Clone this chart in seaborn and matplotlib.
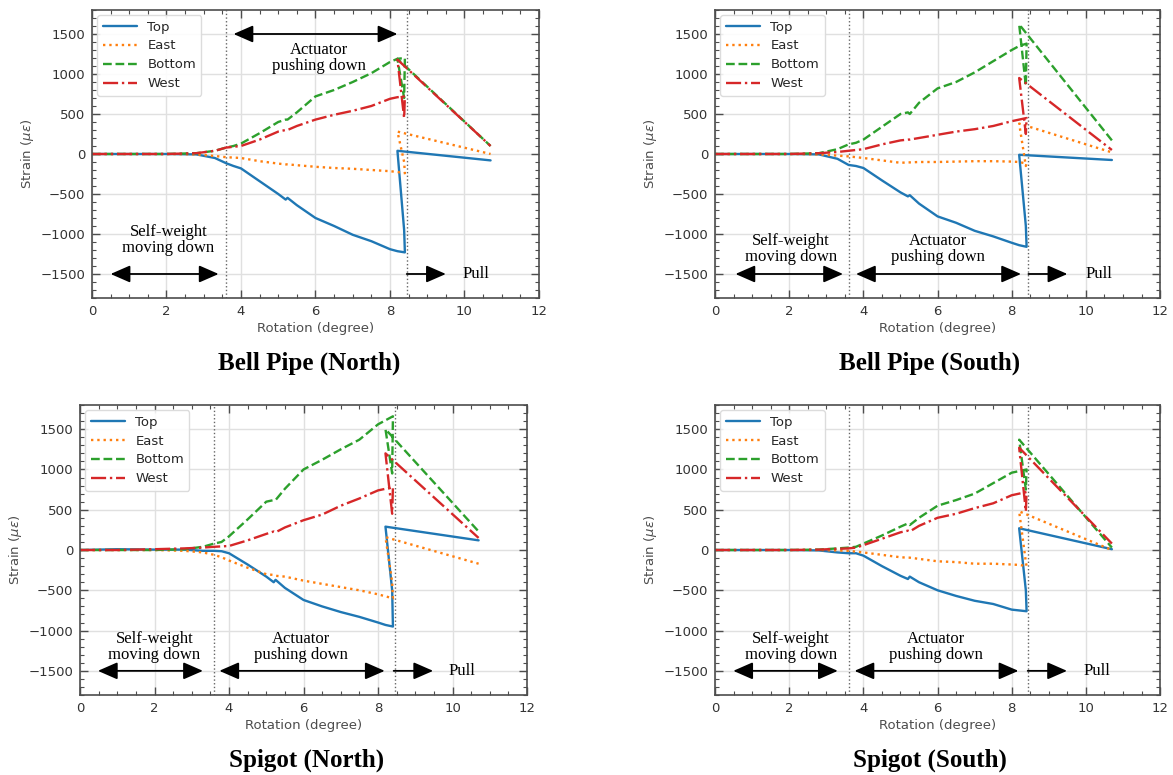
import numpy as np
import pandas as pd
import matplotlib
matplotlib.use("Agg")
import matplotlib.pyplot as plt
import seaborn as sns
from matplotlib.ticker import AutoMinorLocator, MultipleLocator

# ---------------- data ----------------
SENSORS = ["Top", "East", "Bottom", "West"]
COLORS = {"Top": "#1f77b4", "East": "#ff7f0e", "Bottom": "#2ca02c", "West": "#d62728"}

# rotation (degree) during loading, then the unload/jump/pull tail
LOAD_X = [0.0, 1.0, 2.0, 2.8, 3.3, 3.6, 3.8, 4.0, 4.5, 5.0, 5.2, 5.25, 5.5,
          6.0, 6.5, 7.0, 7.5, 8.0, 8.2, 8.4]
TAIL_X = [8.38, 8.2, 10.7]

# Bell Pipe (North)
bell_north_top = [0, 0, 0, -5, -50, -115, -150, -180, -340, -500, -570, -548, -640,
                  -800, -900, -1010, -1090, -1190, -1215, -1230, -950, 40, -80]
bell_north_east = [0, 0, 0, -5, -25, -40, -45, -50, -90, -120, -130, -130, -140,
                   -160, -175, -185, -200, -215, -225, -240, -100, 280, 0]
bell_north_bottom = [0, 0, 0, 10, 40, 80, 100, 130, 260, 400, 430, 430, 520,
                     720, 800, 900, 1010, 1150, 1190, 1200, 700, 1190, 100]
bell_north_west = [0, 0, 0, 10, 40, 80, 90, 100, 180, 280, 300, 300, 350,
                   430, 490, 540, 600, 690, 710, 720, 450, 1180, 100]

# Bell Pipe (South)
bell_south_top = [0, 0, 0, -5, -60, -137, -150, -175, -330, -480, -530, -515, -620,
                  -780, -860, -960, -1030, -1110, -1140, -1160, -900, -10, -75]
bell_south_east = [0, 0, 0, -5, -20, -30, -40, -50, -80, -110, -105, -105, -100,
                   -100, -95, -90, -90, -95, -100, -120, -150, 380, 20]
bell_south_bottom = [0, 0, 0, 10, 60, 120, 140, 180, 340, 500, 520, 500, 640,
                     820, 900, 1020, 1160, 1300, 1350, 1380, 850, 1620, 170]
bell_south_west = [0, 0, 0, 10, 25, 40, 50, 60, 120, 170, 180, 180, 200,
                   240, 280, 310, 350, 410, 430, 450, 250, 950, 50]

# Spigot (North)
spigot_north_top = [0, 10, 5, 5, -10, -10, -15, -40, -180, -330, -400, -370, -470,
                    -620, -700, -770, -830, -900, -930, -950, -500, 290, 120]
spigot_north_east = [0, 0, 0, -10, -30, -60, -90, -130, -220, -300, -310, -320, -330,
                     -380, -420, -460, -500, -550, -575, -600, -400, 160, -170]
spigot_north_bottom = [0, 0, 0, 10, 40, 80, 100, 170, 380, 600, 620, 620, 760,
                       1000, 1120, 1250, 1370, 1560, 1610, 1660, 950, 1500, 230]
spigot_north_west = [0, 0, 10, 20, 30, 40, 45, 50, 120, 200, 230, 220, 280,
                     370, 440, 550, 640, 740, 760, 780, 450, 1200, 150]

# Spigot (South)
spigot_south_top = [0, 0, 0, -5, -30, -40, -40, -70, -200, -320, -360, -330, -400,
                    -500, -570, -630, -670, -740, -750, -760, -500, 270, 10]
spigot_south_east = [0, 0, 0, 0, -5, -10, -20, -30, -60, -90, -95, -95, -110,
                     -140, -150, -170, -170, -180, -185, -200, -150, 480, 0]
spigot_south_bottom = [0, 0, 0, 5, 20, 30, 40, 80, 180, 290, 330, 310, 400,
                       550, 620, 700, 830, 960, 980, 1000, 750, 1370, 30]
spigot_south_west = [0, 0, 0, 5, 15, 20, 30, 60, 140, 220, 240, 230, 300,
                     400, 450, 520, 580, 680, 700, 720, 480, 1270, 80]

PANEL_TITLES = ["Bell Pipe (North)", "Bell Pipe (South)", "Spigot (North)", "Spigot (South)"]
PANEL_SERIES = [
    [bell_north_top, bell_north_east, bell_north_bottom, bell_north_west],
    [bell_south_top, bell_south_east, bell_south_bottom, bell_south_west],
    [spigot_north_top, spigot_north_east, spigot_north_bottom, spigot_north_west],
    [spigot_south_top, spigot_south_east, spigot_south_bottom, spigot_south_west],
]
PHASE_LINES = [3.6, 8.45]
PHASE_LABELS = ["Self-weight\nmoving down", "Actuator\npushing down", "Pull"]

# ---------------- layout / style ----------------
sns.set_theme(style="whitegrid")
plt.rcParams["font.family"] = ["DejaVu Sans"]

fig = plt.figure(figsize=(11.73, 7.75), dpi=100)
AX_RECTS = [
    [0.0784, 0.6155, 0.3811, 0.3716],
    [0.6096, 0.6155, 0.3794, 0.3716],
    [0.0682, 0.1032, 0.3811, 0.3742],
    [0.6096, 0.1032, 0.3794, 0.3742],
]
TITLE_POS = [(0.2634, 0.5316), (0.7928, 0.5316), (0.2617, 0.0194), (0.7928, 0.0194)]

# annotation geometry
ANNOT = [
    dict(sw=(0.5, 3.4, 2.05, -1070), act=(3.8, 8.2, 1500, 6.1, 1200), pull=(8.45, 9.5, 10.3)),
    dict(sw=(0.55, 3.45, 2.05, -1190), act=(3.8, 8.25, -1500, 6.0, -1190), pull=(8.45, 9.5, 10.35)),
    dict(sw=(0.48, 3.3, 2.0, -1200), act=(3.74, 8.18, -1500, 5.93, -1200), pull=(8.42, 9.48, 10.24)),
    dict(sw=(0.49, 3.31, 2.05, -1200), act=(3.76, 8.18, -1500, 5.96, -1200), pull=(8.43, 9.49, 10.29)),
]

DASHES = {"Top": "", "East": (1, 1.65), "Bottom": (3.7, 1.6), "West": (6.4, 1.6, 1, 1.6)}
SERIF = "Liberation Serif"
ARROW2 = dict(arrowstyle="<|-|>,head_length=0.8,head_width=0.35", color="black",
              lw=1.3, mutation_scale=15, shrinkA=0, shrinkB=0)
ARROW1 = dict(arrowstyle="-|>,head_length=0.8,head_width=0.35", color="black",
              lw=1.3, mutation_scale=15, shrinkA=0, shrinkB=0)

for i in range(4):
    ax = fig.add_axes(AX_RECTS[i])
    rows = []
    for name, vals in zip(SENSORS, PANEL_SERIES[i]):
        for x, y in zip(LOAD_X + TAIL_X, vals):
            rows.append({"Rotation": x, "Strain": y, "Sensor": name})
    df = pd.DataFrame(rows)
    sns.lineplot(data=df, x="Rotation", y="Strain", hue="Sensor", style="Sensor",
                 hue_order=SENSORS, style_order=SENSORS, palette=COLORS,
                 dashes=DASHES, sort=False, estimator=None, lw=1.7, ax=ax)

    for xv in PHASE_LINES:
        ax.axvline(xv, color="0.4", ls=":", lw=1.0, zorder=1)

    a = ANNOT[i]
    x0, x1, tx, ty = a["sw"]
    ax.annotate("", xy=(x1, -1500), xytext=(x0, -1500), arrowprops=ARROW2)
    ax.text(tx, ty, PHASE_LABELS[0], ha="center", va="center", fontsize=12,
            family=SERIF, linespacing=1.0, color="black")
    ax0, ax1_, ay, atx, aty = a["act"]
    ax.annotate("", xy=(ax1_, ay), xytext=(ax0, ay), arrowprops=ARROW2)
    ax.text(atx, aty, PHASE_LABELS[1], ha="center", va="center", fontsize=12,
            family=SERIF, linespacing=1.0, color="black")
    p0, p1, ptx = a["pull"]
    ax.annotate("", xy=(p1, -1500), xytext=(p0, -1500), arrowprops=ARROW1)
    ax.text(ptx, -1500, PHASE_LABELS[2], ha="center", va="center", fontsize=12,
            family=SERIF, color="black")

    ax.set_xlim(0, 12)
    ax.set_ylim(-1800, 1800)
    ax.xaxis.set_major_locator(MultipleLocator(2))
    ax.yaxis.set_major_locator(MultipleLocator(500))
    ax.xaxis.set_minor_locator(AutoMinorLocator())
    ax.yaxis.set_minor_locator(AutoMinorLocator())
    ax.grid(True, which="major", color="0.88", lw=1.0)
    ax.grid(False, which="minor")
    ax.tick_params(which="both", direction="in", top=True, right=True, bottom=True,
                   left=True, colors="0.3", labelcolor="0.2", labelsize=9.5)
    ax.tick_params(which="major", length=6, width=1.0, pad=5)
    ax.tick_params(which="minor", length=3, width=0.8)
    for sp in ax.spines.values():
        sp.set_color("0.3")
        sp.set_linewidth(1.2)
    ax.set_xlabel("Rotation (degree)", fontsize=9.5, color="0.3", labelpad=3)
    ax.set_ylabel(r"Strain ($\mu\varepsilon$)", fontsize=9.5, color="0.3", labelpad=3)
    sns.move_legend(ax, "upper left", title=None, fontsize=9.5, frameon=True,
                    borderaxespad=0.4, handlelength=2.6, labelspacing=0.45,
                    edgecolor="0.85", fancybox=True, framealpha=0.9)

    fig.text(TITLE_POS[i][0], TITLE_POS[i][1], PANEL_TITLES[i], ha="center", va="center",
             fontsize=18, fontweight="bold", family=SERIF, color="black")

fig.savefig("out.png", dpi=100)
